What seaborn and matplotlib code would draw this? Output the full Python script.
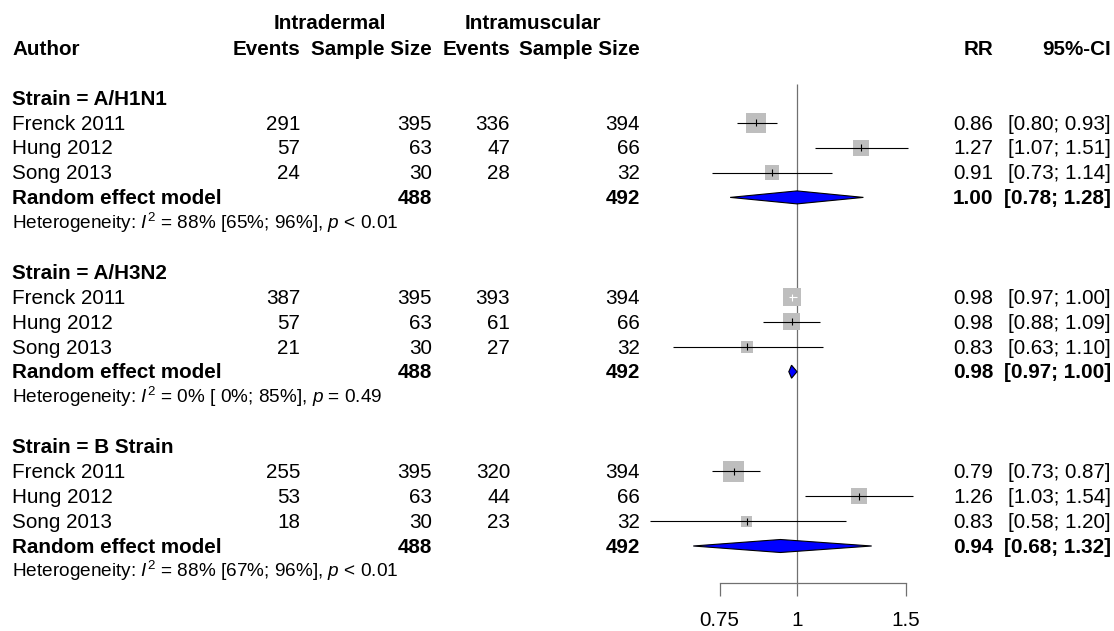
import numpy as np
import pandas as pd
import matplotlib
matplotlib.use('Agg')
import matplotlib.pyplot as plt
from matplotlib.ticker import NullLocator
import seaborn as sns

# ---------------- data ----------------
strains = ['A/H1N1', 'A/H3N2', 'B Strain']
authors = ['Frenck 2011', 'Hung 2012', 'Song 2013']
id_events = [[291, 57, 24], [387, 57, 21], [255, 53, 18]]
id_n = [[395, 63, 30], [395, 63, 30], [395, 63, 30]]
im_events = [[336, 47, 28], [393, 61, 27], [320, 44, 23]]
im_n = [[394, 66, 32], [394, 66, 32], [394, 66, 32]]
rr = [[0.86, 1.27, 0.91], [0.98, 0.98, 0.83], [0.79, 1.26, 0.83]]
rr_lo = [[0.80, 1.07, 0.73], [0.97, 0.88, 0.63], [0.73, 1.03, 0.58]]
rr_hi = [[0.93, 1.51, 1.14], [1.00, 1.09, 1.10], [0.87, 1.54, 1.20]]
weights = [[16.5, 10.5, 8.1], [13.3, 11.9, 5.9], [18.2, 10.5, 5.0]]
re_rr = [1.00, 0.98, 0.94]
re_lo = [0.78, 0.97, 0.68]
re_hi = [1.28, 1.00, 1.32]
i2 = ['88%', '0%', '88%']
i2_ci = ['[65%; 96%]', '[ 0%; 85%]', '[67%; 96%]']
pvals = ['$p$ < 0.01', '$p$ = 0.49', '$p$ < 0.01']
xticks = [0.75, 1, 1.5]
xtick_labels = ['0.75', '1', '1.5']

# ---------------- style ----------------
sns.set_style('white')
plt.rcParams['font.family'] = ['Liberation Sans', 'DejaVu Sans']
plt.rcParams['mathtext.fontset'] = 'custom'
plt.rcParams['mathtext.it'] = 'Liberation Sans:italic'
plt.rcParams['mathtext.rm'] = 'Liberation Sans'
plt.rcParams['mathtext.bf'] = 'Liberation Sans:bold'

W, H = 1114, 631
fig = plt.figure(figsize=(W / 100, H / 100), dpi=100)
fig.patch.set_facecolor('white')
ax = fig.add_axes([0, 0, 1, 1])
ax.set_xlim(0, W)
ax.set_ylim(H, 0)
ax.axis('off')

FS = 14.9
FS_HET = 13.7
BASE = 6.8          # baseline offset from row centre (px)
GRAY = '#707070'
ROW0, ROWH = 48, 24.9


def ypos(i):
    return ROW0 + i * ROWH


def txt(x, row, s, ha='left', bold=False, size=FS):
    ax.text(x, ypos(row) + BASE * size / FS, s, ha=ha, va='baseline', fontsize=size,
            fontweight='bold' if bold else 'normal', color='black')


# column anchors (px)
X_AUTH = 12
X_IDE, X_IDN, X_IME, X_IMN = 300, 432, 510, 640
X_RR, X_CI = 993, 1111

# headers
txt(330, -1.04, 'Intradermal', ha='center', bold=True)
txt(533, -1.04, 'Intramuscular', ha='center', bold=True)
txt(X_AUTH, 0, 'Author', bold=True)
txt(X_IDE, 0, 'Events', ha='right', bold=True)
txt(X_IDN, 0, 'Sample Size', ha='right', bold=True)
txt(X_IME, 0, 'Events', ha='right', bold=True)
txt(X_IMN, 0, 'Sample Size', ha='right', bold=True)
txt(X_RR, 0, 'RR', ha='right', bold=True)
txt(X_CI, 0, '95%-CI', ha='right', bold=True)

# ---------------- forest axes ----------------
FX0, FX1, XREF, SCALE = 640, 940, 797, 269.0
axf = fig.add_axes([FX0 / W, 0, (FX1 - FX0) / W, 1])
axf.patch.set_alpha(0)

rows_study = []
for g in range(3):
    base = 2 + 7 * g
    txt(X_AUTH, base, 'Strain = ' + strains[g], bold=True)
    for k in range(3):
        r = base + 1 + k
        rows_study.append(dict(rr=rr[g][k], lo=rr_lo[g][k], hi=rr_hi[g][k],
                               w=weights[g][k], y=ypos(r)))
        txt(X_AUTH, r, authors[k])
        txt(X_IDE, r, str(id_events[g][k]), ha='right')
        txt(X_IDN, r, str(id_n[g][k]), ha='right')
        txt(X_IME, r, str(im_events[g][k]), ha='right')
        txt(X_IMN, r, str(im_n[g][k]), ha='right')
        txt(X_RR, r, f'{rr[g][k]:.2f}', ha='right')
        txt(X_CI, r, f'[{rr_lo[g][k]:.2f}; {rr_hi[g][k]:.2f}]', ha='right')
    r = base + 4
    txt(X_AUTH, r, 'Random effect model', bold=True)
    txt(X_IDN, r, str(sum(id_n[g])), ha='right', bold=True)
    txt(X_IMN, r, str(sum(im_n[g])), ha='right', bold=True)
    txt(X_RR, r, f'{re_rr[g]:.2f}', ha='right', bold=True)
    txt(X_CI, r, f'[{re_lo[g]:.2f}; {re_hi[g]:.2f}]', ha='right', bold=True)
    txt(X_AUTH, base + 5,
        'Heterogeneity: $I^2$ = ' + i2[g] + ' ' + i2_ci[g] + ', ' + pvals[g],
        size=FS_HET)
    # diamond
    yc = ypos(r)
    axf.fill([re_lo[g], re_rr[g], re_hi[g], re_rr[g]],
             [yc, yc - 6.5, yc, yc + 6.5],
             facecolor='#0000FF', edgecolor='black', linewidth=0.8, zorder=4)

df = pd.DataFrame(rows_study)

# squares (area proportional to weight)
SIDE_K = 4.92  # px per sqrt(weight %)
area_max = (SIDE_K * 0.72) ** 2 * 100
sns.scatterplot(data=df, x='rr', y='y', size='w', sizes=(0, area_max),
                size_norm=(0, 100), marker='s', color='#BEBEBE', linewidth=0,
                legend=False, ax=axf, zorder=2)

# CI lines and estimate marks
for _, s in df.iterrows():
    half = SIDE_K * np.sqrt(s.w) / 2 / SCALE
    inside = (np.log(s.hi) - np.log(s.rr) < half) and (np.log(s.rr) - np.log(s.lo) < half)
    col = 'white' if inside else 'black'
    axf.hlines(s.y, s.lo, s.hi, color=col, linewidth=0.8, zorder=3)
    axf.vlines(s.rr, s.y - 3.5, s.y + 3.5, color=col, linewidth=0.8, zorder=3)

# reference line
axf.vlines(1, 84, 583, color=GRAY, linewidth=0.9, zorder=1)

axf.set_xscale('log')
axf.set_xlim(np.exp((FX0 - XREF) / SCALE), np.exp((FX1 - XREF) / SCALE))
axf.set_ylim(H, 0)
axf.set_xlabel('')
axf.set_ylabel('')
for sp in ['top', 'left', 'right']:
    axf.spines[sp].set_visible(False)
axf.spines['bottom'].set_position(('data', 583))
axf.spines['bottom'].set_bounds(0.75, 1.5)
axf.spines['bottom'].set_color(GRAY)
axf.spines['bottom'].set_linewidth(0.9)
axf.set_yticks([])
axf.set_xticks(xticks)
axf.set_xticklabels(xtick_labels)
axf.xaxis.set_minor_locator(NullLocator())
axf.tick_params(axis='x', which='major', direction='out', length=9.4, width=0.9,
                color=GRAY, pad=10.5, labelsize=FS, labelcolor='black', bottom=True)
axf.grid(False)

fig.savefig('out.png', dpi=100, facecolor='white')
